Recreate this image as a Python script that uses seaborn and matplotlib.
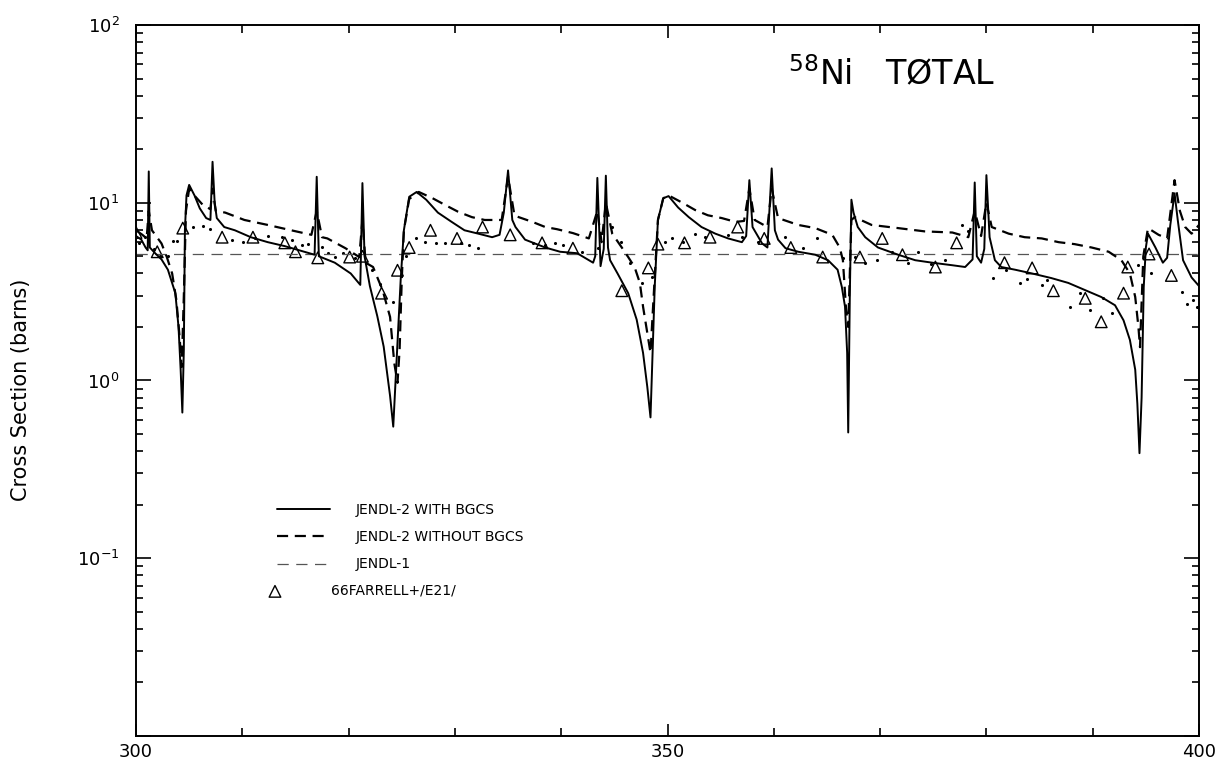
import matplotlib
matplotlib.use("Agg")
import matplotlib.pyplot as plt
from matplotlib.ticker import FixedLocator, MultipleLocator, LogLocator, NullFormatter
import numpy as np
import pandas as pd
import seaborn as sns

# Neutron energy (keV) and total cross section (barns), 58Ni, 300-400 keV

# JENDL-2 with background cross section
with_bgcs_e = [300.0, 300.5, 300.9, 301.1, 301.2, 301.3, 301.8, 302.4, 303.0, 303.7,
               304.0, 304.2, 304.36, 304.5, 304.6, 304.75, 305.0, 305.5, 306.0, 306.6,
               307.0, 307.2, 307.4, 307.6, 308.3, 309.3, 310.8, 312.4, 314.0, 315.6,
               316.8, 317.0, 317.2, 318.7, 320.2, 321.1, 321.3, 321.5, 322.0, 322.7, 323.3,
               323.9, 324.2, 324.5, 324.9, 325.2, 325.7, 326.4, 327.3, 328.4, 329.7,
               330.9, 332.2, 333.5, 334.2, 334.6, 335.0, 335.4, 335.7, 336.6, 338.5,
               339.9, 341.5, 343.0, 343.2, 343.4, 343.7, 344.0, 344.2, 344.4, 344.6,
               345.3, 346.3, 347.1, 347.7, 348.1, 348.4, 348.6, 348.8, 349.1, 349.6,
               350.1, 351.0, 352.0, 353.2, 354.5, 355.7, 357.0, 357.4, 357.7, 358.0,
               358.9, 359.4, 359.8, 360.1, 360.4, 361.1, 362.3, 363.9, 365.1, 366.0,
               366.4, 366.7, 366.9, 367.0, 367.15, 367.3, 367.5, 367.9, 368.6, 369.8,
               371.7, 373.3, 374.9, 376.8, 378.0, 378.7, 378.9, 379.1, 379.5, 379.8,
               380.0, 380.3, 380.8, 381.4, 382.7, 384.3, 386.1, 387.7, 389.3, 390.8,
               392.1, 392.9, 393.5, 394.0, 394.2, 394.4, 394.6, 394.8, 395.0, 395.2,
               395.9, 396.6, 397.0, 397.3, 397.7, 398.0, 398.5, 399.3, 400.0]
with_bgcs_xs = [6.5, 6.2, 5.6, 5.4, 15.0, 5.6, 5.2, 4.8, 4.2, 3.1,
                2.0, 1.15, 0.66, 1.5, 7.0, 11.0, 12.6, 11.0, 9.3, 8.2,
                8.0, 17.0, 10.0, 8.2, 7.3, 7.0, 6.4, 6.0, 5.7, 5.35,
                5.1, 14.0, 5.0, 4.6, 4.0, 3.45, 12.9, 5.0, 3.4, 2.3, 1.55,
                0.82, 0.55, 1.25, 3.7, 7.0, 10.8, 11.5, 10.4, 8.8, 7.8,
                7.0, 6.7, 6.4, 6.6, 8.8, 15.2, 8.0, 7.3, 6.2, 5.6,
                5.3, 5.2, 4.6, 5.0, 13.8, 4.4, 5.5, 14.2, 5.6, 4.75,
                4.0, 3.1, 2.2, 1.43, 0.92, 0.62, 1.43, 3.4, 8.0, 10.6,
                10.9, 9.4, 8.3, 7.3, 6.7, 6.3, 6.0, 6.5, 13.4, 7.3,
                5.9, 5.6, 15.6, 7.0, 6.2, 5.55, 5.3, 5.1, 4.75, 4.2,
                3.36, 2.6, 1.43, 0.51, 3.0, 10.4, 8.8, 7.3, 6.4, 5.6,
                5.1, 4.75, 4.6, 4.45, 4.35, 4.8, 13.0, 5.0, 4.6, 5.5,
                14.3, 6.4, 4.75, 4.35, 4.2, 4.0, 3.77, 3.54, 3.22, 2.95,
                2.65, 2.18, 1.69, 1.15, 0.74, 0.39, 0.8, 3.36, 5.6, 6.7,
                5.6, 4.6, 4.9, 7.5, 11.3, 8.0, 4.75, 3.8, 3.4]

# JENDL-2 without background cross section
without_bgcs_e = [300.0, 300.6, 301.0, 301.2, 301.5, 302.4, 302.9, 303.4, 303.8, 304.1,
                  304.3, 304.5, 304.7, 305.0, 305.6, 306.3, 307.0, 307.2, 307.5, 308.4,
                  310.2, 312.4, 314.6, 316.5, 317.0, 317.5, 318.0, 319.7, 321.0, 321.3,
                  321.6, 322.3, 323.2, 323.9, 324.3, 324.6, 324.8, 325.0, 325.2, 325.7,
                  326.6, 327.9, 329.1, 330.3, 331.6, 332.8, 334.4, 335.0, 335.6, 336.0,
                  337.3, 338.5, 339.6, 341.1, 342.6, 343.4, 343.8, 344.2, 344.8, 345.7,
                  346.3, 346.9, 347.4, 347.7, 348.1, 348.4, 348.7, 349.1, 349.6, 350.1,
                  351.4, 352.6, 353.8, 355.1, 356.4, 357.2, 357.7, 358.2, 359.4, 359.8,
                  360.4, 362.3, 363.9, 365.5, 366.2, 366.5, 366.8, 367.0, 367.3, 367.6,
                  369.2, 371.7, 374.2, 376.8, 378.3, 378.9, 379.5, 380.0, 380.5, 382.1,
                  383.6, 385.2, 386.8, 388.3, 389.9, 391.5, 392.7, 393.5, 394.0, 394.3,
                  394.45, 394.76, 395.2, 396.2, 397.0, 397.7, 398.2, 398.7, 399.3, 400.0]
without_bgcs_xs = [7.0, 6.6, 6.3, 9.0, 7.0, 5.9, 4.95, 4.0, 2.83, 1.76,
                   1.19, 3.0, 9.0, 12.0, 10.8, 9.7, 9.2, 12.0, 9.0, 8.8,
                   8.0, 7.5, 7.0, 6.6, 9.0, 6.4, 6.3, 5.55, 4.95, 8.0,
                   4.6, 4.35, 3.22, 2.28, 1.25, 0.97, 1.5, 3.7, 7.0, 10.5,
                   11.5, 10.6, 9.7, 8.9, 8.3, 8.0, 8.0, 14.0, 8.5, 8.3,
                   7.8, 7.3, 7.1, 6.75, 6.3, 9.0, 6.0, 10.0, 6.7, 5.6,
                   4.95, 4.35, 3.54, 2.6, 1.85, 1.43, 3.0, 8.0, 10.6, 11.0,
                   10.0, 9.1, 8.5, 8.2, 7.8, 7.9, 12.0, 8.0, 7.3, 12.0,
                   8.2, 7.5, 7.2, 6.6, 5.6, 4.75, 2.5, 2.0, 8.0, 8.3,
                   7.5, 7.2, 6.9, 6.8, 6.4, 9.0, 6.5, 10.0, 7.3, 6.7,
                   6.4, 6.3, 6.0, 5.85, 5.6, 5.3, 4.75, 4.0, 2.95, 2.0,
                   1.54, 5.0, 7.2, 6.6, 6.3, 13.4, 9.0, 7.3, 6.7, 7.5]

# JENDL-1 (smooth over this range)
jendl1_e = [300.0, 400.0]
jendl1_xs = [5.15, 5.15]

# 66FARRELL+ /E21/ measurement
farrell_e = [300.0, 302.0, 304.4, 308.1, 311.0, 314.0, 315.0, 317.1, 320.1, 321.3,
             323.1, 324.6, 325.7, 327.7, 330.2, 332.6, 335.2, 338.2, 341.1, 345.7,
             348.2, 349.1, 351.6, 354.0, 356.6, 359.1, 361.6, 364.6, 368.1, 370.2,
             372.1, 375.2, 377.2, 381.7, 384.3, 386.3, 389.3, 390.8, 392.9, 393.3,
             395.3, 397.4]
farrell_xs = [6.8, 5.3, 7.2, 6.4, 6.4, 5.95, 5.3, 4.9, 4.95, 5.0,
              3.1, 4.17, 5.6, 7.0, 6.3, 7.3, 6.6, 5.95, 5.55, 3.2,
              4.3, 5.85, 5.95, 6.4, 7.3, 6.3, 5.6, 4.95, 4.95, 6.3,
              5.1, 4.35, 5.95, 4.6, 4.3, 3.2, 2.9, 2.14, 3.1, 4.35,
              5.15, 3.9]

# High-resolution transmission data (dots)
dots_e = [300.3, 300.8, 301.7, 302.3, 303.0, 303.5, 303.9, 305.4, 306.3, 307.0,
          309.0, 310.1, 311.2, 312.4, 313.7, 314.7, 315.6, 316.2, 317.5, 318.1,
          318.7, 319.5, 320.6, 321.6, 322.2, 323.0, 324.2, 325.4, 326.3, 327.2,
          328.2, 329.1, 330.6, 331.3, 332.2, 337.3, 338.5, 339.4, 340.2, 342.0,
          343.5, 344.8, 345.6, 346.5, 347.6, 348.5, 349.8, 350.4, 351.5, 352.6,
          353.5, 355.7, 357.0, 358.5, 361.1, 362.7, 364.1, 366.5, 367.6, 368.6,
          369.7, 371.1, 372.6, 373.6, 374.8, 376.1, 377.7, 378.3, 380.6, 381.8,
          383.2, 383.8, 385.2, 385.7, 387.9, 388.8, 389.7, 391.0, 391.8, 394.3,
          395.5, 398.4, 398.9, 399.4, 399.8]
dots_xs = [5.9, 6.4, 5.5, 5.0, 5.0, 6.1, 6.1, 7.3, 7.4, 7.1,
           6.15, 6.0, 6.3, 6.5, 6.4, 6.2, 5.8, 5.85, 5.65, 5.2,
           4.95, 5.2, 4.9, 4.6, 4.2, 3.5, 2.75, 5.0, 6.3, 6.0,
           5.9, 5.95, 5.9, 5.8, 5.6, 5.95, 5.8, 5.9, 5.8, 5.3,
           5.6, 7.3, 6.0, 4.6, 3.55, 3.8, 6.0, 6.3, 6.0, 6.7,
           6.4, 6.6, 6.4, 6.0, 6.4, 5.55, 6.3, 4.9, 4.95, 4.6,
           4.75, 5.3, 4.6, 5.3, 4.5, 4.75, 7.5, 6.9, 3.77, 4.2,
           3.54, 3.7, 3.45, 3.67, 2.6, 3.1, 2.5, 2.9, 2.4, 4.45,
           4.0, 3.15, 2.7, 2.85, 2.6]

x_major = [300, 350, 400]
x_tick_labels = ["300", "350", "400"]
y_major = [1e-2, 1e-1, 1e0, 1e1, 1e2]
y_tick_labels = ["", r"$10^{-1}$", r"$10^{0}$", r"$10^{1}$", r"$10^{2}$"]

labels = ["JENDL-2 WITH BGCS", "JENDL-2 WITHOUT BGCS", "JENDL-1", "66FARRELL+/E21/"]

sns.set_style("ticks")
plt.rcParams["font.family"] = ["DejaVu Sans"]
plt.rcParams["mathtext.default"] = "regular"
plt.rcParams["text.color"] = "black"
plt.rcParams["axes.labelcolor"] = "black"
plt.rcParams["xtick.color"] = "black"
plt.rcParams["ytick.color"] = "black"

fig = plt.figure(figsize=(12.19, 7.6), dpi=100)
ax = fig.add_axes([0.11157, 0.03158, 0.87203, 0.93553])

df_with = pd.DataFrame({"e": with_bgcs_e, "xs": with_bgcs_xs})
df_without = pd.DataFrame({"e": without_bgcs_e, "xs": without_bgcs_xs})
df_j1 = pd.DataFrame({"e": jendl1_e, "xs": jendl1_xs})
df_far = pd.DataFrame({"e": farrell_e, "xs": farrell_xs})
df_dots = pd.DataFrame({"e": dots_e, "xs": dots_xs})

sns.lineplot(data=df_j1, x="e", y="xs", ax=ax, color="#555555", lw=0.9,
             linestyle=(0, (9, 6)), estimator=None, sort=False, label=labels[2])
sns.lineplot(data=df_without, x="e", y="xs", ax=ax, color="black", lw=1.6,
             linestyle=(0, (5, 3)), estimator=None, sort=False, label=labels[1])
sns.lineplot(data=df_with, x="e", y="xs", ax=ax, color="black", lw=1.4,
             linestyle="-", estimator=None, sort=False, label=labels[0])
sns.scatterplot(data=df_dots, x="e", y="xs", ax=ax, color="black", s=5,
                linewidth=0, marker="o", legend=False)
sns.scatterplot(data=df_far, x="e", y="xs", ax=ax, marker="^", s=70,
                facecolors="none", edgecolors="black", linewidth=1.0,
                label=labels[3])

ax.set_yscale("log")
ax.set_xlim(300, 400)
ax.set_ylim(1e-2, 1e2)

ax.xaxis.set_major_locator(FixedLocator(x_major))
ax.set_xticklabels(x_tick_labels)
ax.xaxis.set_minor_locator(MultipleLocator(10))
ax.yaxis.set_major_locator(FixedLocator(y_major))
ax.set_yticklabels(y_tick_labels)
ax.yaxis.set_minor_locator(LogLocator(base=10, subs=np.arange(2, 10), numticks=20))
ax.yaxis.set_minor_formatter(NullFormatter())

ax.tick_params(axis="both", which="both", direction="in", top=True, right=True,
               colors="black", width=1.2, labelsize=13)
ax.tick_params(axis="x", which="major", length=9, pad=5)
ax.tick_params(axis="x", which="minor", length=6)
ax.tick_params(axis="y", which="major", length=11, pad=12)
ax.tick_params(axis="y", which="minor", length=5)
for sp in ax.spines.values():
    sp.set_linewidth(1.4)
    sp.set_color("black")

ax.set_xlabel("")
ax.set_ylabel("")
fig.text(0.017, 1 - 390 / 760, "Cross Section (barns)", rotation=90,
         fontsize=15, va="center", ha="center", color="black")

ax.text(0.613, 0.93, r"$^{58}$Ni   TØTAL", transform=ax.transAxes,
        fontsize=24, va="center", ha="left", color="black")

handles, labs = ax.get_legend_handles_labels()
hmap = dict(zip(labs, handles))
leg1 = ax.legend([hmap[labels[0]], hmap[labels[1]], hmap[labels[2]]], labels[:3],
                 loc="upper left", bbox_to_anchor=(0.1326, 0.3277), frameon=False,
                 fontsize=10, handlelength=3.8, handletextpad=1.87,
                 labelspacing=0.95, borderpad=0, borderaxespad=0, labelcolor="black")
ax.add_artist(leg1)
ax.legend([hmap[labels[3]]], [labels[3]], loc="upper left",
          bbox_to_anchor=(0.1242, 0.2138), frameon=False, fontsize=10,
          handlelength=1.0, handletextpad=3.5, borderpad=0, borderaxespad=0,
          scatterpoints=1, labelcolor="black")

fig.savefig("out.png", dpi=100, facecolor="white")
